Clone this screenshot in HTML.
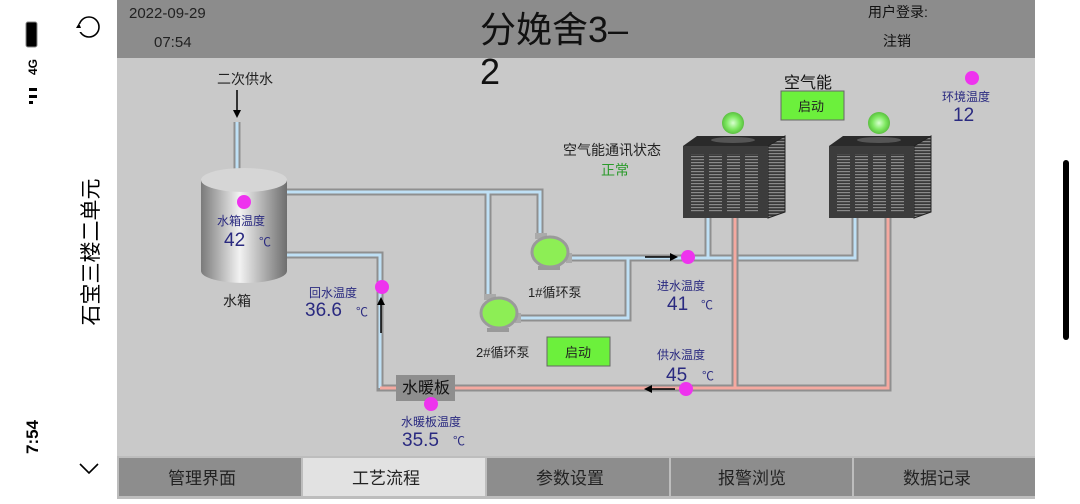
<!DOCTYPE html>
<html><head><meta charset="utf-8"><style>
body{margin:0;width:1080px;height:499px;overflow:hidden;background:#fff;font-family:"Liberation Sans","Noto Sans CJK SC",sans-serif;}
svg text{font-family:"Liberation Sans","Noto Sans CJK SC",sans-serif;}
</style></head><body>
<svg width="1080" height="499" viewBox="0 0 1080 499" xmlns="http://www.w3.org/2000/svg">
<defs>
<linearGradient id="tank" x1="0" x2="1" y1="0" y2="0">
<stop offset="0" stop-color="#7a7a7a"/><stop offset="0.45" stop-color="#f2f2f2"/><stop offset="1" stop-color="#6e6e6e"/></linearGradient>
<radialGradient id="lamp"><stop offset="0" stop-color="#d8ffd0"/><stop offset="0.6" stop-color="#7de860"/><stop offset="1" stop-color="#5ac040"/></radialGradient>
<pattern id="grill" width="4" height="3" patternUnits="userSpaceOnUse"><rect width="4" height="3" fill="#3a3a3a"/><rect width="4" height="1.2" fill="#8a8a8a"/></pattern>
</defs>
<rect x="0" y="0" width="117" height="499" fill="#fff"/>
<rect x="26" y="22" width="11" height="25" rx="2" fill="#000" stroke="#888" stroke-width="1"/>
<text x="37" y="67" font-size="12" font-weight="bold" transform="rotate(-90 37 67)" text-anchor="middle">4G</text>
<rect x="29" y="88" width="8" height="3" fill="#000"/><rect x="29" y="95" width="8" height="3" fill="#000"/><rect x="29" y="101" width="4" height="3" fill="#000"/>
<text x="38" y="437" font-size="17" font-weight="bold" transform="rotate(-90 38 437)" text-anchor="middle">7:54</text>
<circle cx="89" cy="27" r="10" fill="none" stroke="#000" stroke-width="1.6"/><rect x="77" y="24" width="8" height="8" fill="#fff"/><path d="M76 28 l5 0 l-2 -5z" fill="#000"/>
<text x="98" y="252" font-size="21" transform="rotate(-90 98 252)" text-anchor="middle">石宝三楼二单元</text>
<path d="M80 464 l9 9 l9 -9" fill="none" stroke="#000" stroke-width="1.6"/>
<rect x="1063" y="160" width="6" height="180" rx="3" fill="#000"/>
<rect x="117" y="0" width="918" height="499" fill="#c9c9c9"/>
<rect x="117" y="0" width="918" height="58" fill="#8c8c8c"/>
<text x="129" y="18" font-size="15" fill="#222">2022-09-29</text>
<text x="154" y="47" font-size="15" fill="#222">07:54</text>
<text x="480" y="42" font-size="36" fill="#111">分娩舍3–</text>
<text x="480" y="84" font-size="36" fill="#111">2</text>
<text x="868" y="17" font-size="14" fill="#111">用户登录:</text>
<text x="883" y="46" font-size="14" fill="#111">注销</text>
<rect x="117" y="456" width="918" height="43" fill="#bdbdbd"/>
<g font-size="17" fill="#222" text-anchor="middle">
<rect x="119" y="458" width="182" height="38" fill="#8d8d8d"/><text x="202" y="484">管理界面</text>
<rect x="303" y="458" width="182" height="38" fill="#e2e2e2"/><text x="386" y="484">工艺流程</text>
<rect x="487" y="458" width="182" height="38" fill="#8d8d8d"/><text x="570" y="484">参数设置</text>
<rect x="671" y="458" width="181" height="38" fill="#8d8d8d"/><text x="752" y="484">报警浏览</text>
<rect x="854" y="458" width="181" height="38" fill="#8d8d8d"/><text x="937" y="484">数据记录</text>
</g>
<g fill="none" stroke-linejoin="miter">
<g stroke="#8f8f8f" stroke-width="7">
<path d="M237 122 V170"/>
<path d="M287 192 H540 V238"/>
<path d="M488 192 V300"/>
<path d="M287 255 H380 V388 H398"/>
<path d="M568 258 H855 V218"/>
<path d="M708 258 V218"/>
<path d="M628 258 V318 H515"/>
</g>
<g stroke="#bfe0f5" stroke-width="3">
<path d="M237 122 V170"/>
<path d="M287 192 H540 V238"/>
<path d="M488 192 V300"/>
<path d="M287 255 H380 V388"/>
<path d="M568 258 H855 V218"/>
<path d="M708 258 V218"/>
<path d="M628 258 V318 H515"/>
</g>
<g stroke="#8f8f8f" stroke-width="7"><path d="M455 388 H888 V218"/><path d="M735 388 V218"/></g>
<g stroke="#f5a9a0" stroke-width="3"><path d="M380 388 H888 V218"/><path d="M735 388 V218"/></g>
</g>
<text x="245" y="84" font-size="14" text-anchor="middle" fill="#222">二次供水</text>
<path d="M237 90 V114" stroke="#000" stroke-width="1.5"/><path d="M233 110 l4 8 l4 -8z" fill="#000"/>
<path d="M381 333 V302" stroke="#000" stroke-width="1.5"/><path d="M377 305 l4 -8 l4 8z" fill="#000"/>
<path d="M645 257 H672" stroke="#000" stroke-width="1.5"/><path d="M670 253 l8 4 l-8 4z" fill="#000"/>
<path d="M675 389 H650" stroke="#000" stroke-width="1.5"/><path d="M652 385 l-8 4 l8 4z" fill="#000"/>
<path d="M201 180 V271 A43 12 0 0 0 287 271 V180z" fill="url(#tank)"/>
<ellipse cx="244" cy="180" rx="43" ry="12" fill="#d6d6d6"/>
<text x="237" y="306" font-size="14" text-anchor="middle" fill="#222">水箱</text>
<text x="241" y="225" font-size="12" text-anchor="middle" fill="#2a2a80">水箱温度</text>
<text x="224" y="246" font-size="19" fill="#2a2a80">42</text><text x="259" y="246" font-size="12" fill="#2a2a80">℃</text>
<g>
<rect x="538" y="266" width="22" height="4" fill="#999"/><rect x="535" y="233" width="12" height="6" fill="#aaa"/><rect x="566" y="253" width="6" height="10" fill="#aaa"/>
<ellipse cx="550" cy="252" rx="18" ry="15" fill="#8dee55" stroke="#9a9a9a" stroke-width="3"/>
<rect x="487" y="328" width="22" height="4" fill="#999"/><rect x="484" y="294" width="12" height="6" fill="#aaa"/><rect x="515" y="313" width="6" height="10" fill="#aaa"/>
<ellipse cx="499" cy="313" rx="18" ry="15" fill="#8dee55" stroke="#9a9a9a" stroke-width="3"/>
</g>
<text x="528" y="297" font-size="13" fill="#222">1#循环泵</text>
<text x="476" y="357" font-size="13" fill="#222">2#循环泵</text>
<rect x="547" y="337" width="63" height="29" fill="#6cf03c" stroke="#666" stroke-width="1"/>
<text x="578" y="357" font-size="13" text-anchor="middle" fill="#222">启动</text>
<rect x="396" y="375" width="59" height="26" fill="#8e8e8e"/>
<text x="426" y="393" font-size="16" text-anchor="middle" fill="#111">水暖板</text>
<g fill="#ee33ee">
<circle cx="244" cy="202" r="7"/><circle cx="382" cy="287" r="7"/><circle cx="688" cy="257" r="7"/><circle cx="686" cy="389" r="7"/><circle cx="431" cy="404" r="7"/><circle cx="972" cy="78" r="7"/>
</g>
<g fill="#2a2a80">
<text x="309" y="297" font-size="12">回水温度</text>
<text x="305" y="316" font-size="19">36.6</text><text x="356" y="316" font-size="12">℃</text>
<text x="657" y="290" font-size="12">进水温度</text>
<text x="667" y="310" font-size="19">41</text><text x="701" y="309" font-size="12">℃</text>
<text x="657" y="359" font-size="12">供水温度</text>
<text x="666" y="381" font-size="19">45</text><text x="702" y="380" font-size="12">℃</text>
<text x="401" y="426" font-size="12">水暖板温度</text>
<text x="402" y="446" font-size="19">35.5</text><text x="453" y="445" font-size="12">℃</text>
<text x="942" y="101" font-size="12">环境温度</text>
<text x="953" y="121" font-size="19">12</text>
</g>
<text x="808" y="88" font-size="16" text-anchor="middle" fill="#111">空气能</text>
<rect x="781" y="91" width="63" height="29" fill="#6cf03c" stroke="#666" stroke-width="1"/>
<text x="811" y="111" font-size="13" text-anchor="middle" fill="#222">启动</text>
<text x="612" y="155" font-size="14" text-anchor="middle" fill="#222">空气能通讯状态</text>
<text x="615" y="175" font-size="14" text-anchor="middle" fill="#2a9a2a">正常</text>
<g id="u1">
<polygon points="683,146 697,136 785,136 768,146" fill="#2a2a2a"/>
<ellipse cx="733" cy="140" rx="22" ry="3" fill="#555"/>
<polygon points="768,146 785,136 785,212 768,218" fill="url(#grill)" stroke="#222"/>
<rect x="683" y="146" width="85" height="72" fill="#3c3c3c"/>
<rect x="691" y="154" width="13" height="58" fill="url(#grill)"/><rect x="709" y="154" width="13" height="58" fill="url(#grill)"/><rect x="727" y="154" width="13" height="58" fill="url(#grill)"/><rect x="745" y="154" width="13" height="58" fill="url(#grill)"/>
<circle cx="733" cy="123" r="11" fill="url(#lamp)"/>
</g>
<use href="#u1" transform="translate(146 0)"/>
</svg>
</body></html>
